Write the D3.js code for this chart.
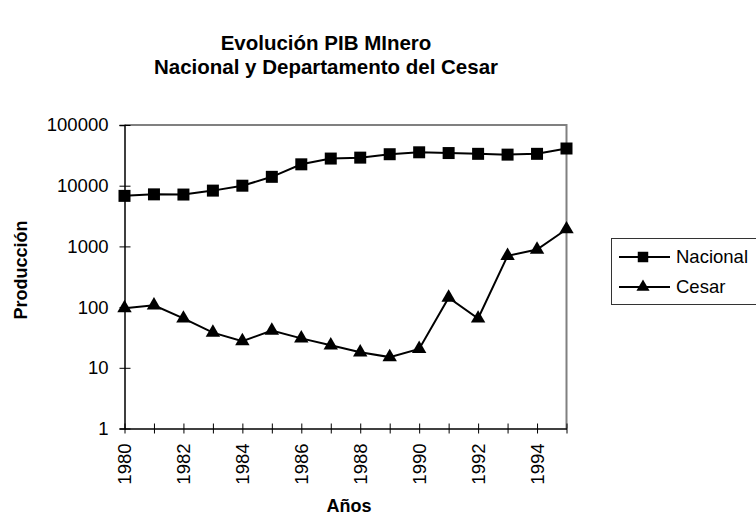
<!DOCTYPE html>
<html>
<head>
<meta charset="utf-8">
<script src="https://cdn.jsdelivr.net/npm/d3@7"></script>
<style>
    body { margin: 0; background: #fff; }
    svg { display: block; font-family: "Liberation Sans", Arial, sans-serif; }
</style>
</head>
<body>
<svg id="chart" width="756" height="517"></svg>
<script>
// data
const years = [1980, 1981, 1982, 1983, 1984, 1985, 1986, 1987, 1988, 1989, 1990, 1991, 1992, 1993, 1994, 1995];
const nacional = [6800, 7200, 7150, 8300, 10000, 14000, 22500, 28000, 29000, 33000, 35500, 34500, 33500, 32500, 33500, 41000];
const cesar = [96, 107, 65, 38, 27.5, 41, 30.5, 23.5, 18, 15, 20.5, 143, 65, 700, 890, 1920];
const yTicks = [1, 10, 100, 1000, 10000, 100000];
const seriesNames = ['Nacional', 'Cesar'];

const svg = d3.select('#chart');

const plot = { left: 124.5, right: 566.5, top: 125, bottom: 428.5 };

const x = d3.scaleLinear()
    .domain([years[0], years[years.length - 1]])
    .range([plot.left, plot.right]);

const y = d3.scaleLog()
    .domain([1, 100000])
    .range([plot.bottom, plot.top]);

// titles
svg.append('text')
    .attr('x', 326).attr('y', 50)
    .attr('text-anchor', 'middle')
    .attr('font-size', 20.5).attr('font-weight', 'bold')
    .text('Evolución PIB MInero');
svg.append('text')
    .attr('x', 326).attr('y', 74)
    .attr('text-anchor', 'middle')
    .attr('font-size', 20.5).attr('font-weight', 'bold')
    .text('Nacional y Departamento del Cesar');

// gray frame on top and right
svg.append('path')
    .attr('d', 'M' + plot.left + ',' + plot.top + 'H' + plot.right + 'V' + plot.bottom)
    .attr('fill', 'none')
    .attr('stroke', '#808080')
    .attr('stroke-width', 2);

// y axis
const yAxis = svg.append('g')
    .attr('transform', 'translate(' + plot.left + ',0)')
    .call(d3.axisLeft(y).tickValues(yTicks).tickFormat(d3.format('d')).tickSize(5).tickPadding(11));
yAxis.select('.domain').attr('stroke', '#000').attr('stroke-width', 1.5);
yAxis.selectAll('.tick line').attr('x1', 6).attr('stroke', '#000');
yAxis.selectAll('.tick text')
    .attr('font-size', 18.5).attr('font-family', 'Liberation Sans, Arial, sans-serif').attr('fill', '#000');

// x axis
const xAxis = svg.append('g')
    .attr('transform', 'translate(0,' + plot.bottom + ')')
    .call(d3.axisBottom(x).tickValues(years)
        .tickFormat(function(d) { return d % 2 === 0 && d < 1995 ? d : ''; })
        .tickSize(5).tickSizeOuter(0));
xAxis.select('.domain').attr('stroke', '#000').attr('stroke-width', 1.5);
xAxis.selectAll('.tick line').attr('y1', -5).attr('stroke', '#000');
xAxis.selectAll('.tick text')
    .attr('font-size', 18.5).attr('font-family', 'Liberation Sans, Arial, sans-serif').attr('fill', '#000')
    .attr('transform', 'rotate(-90)')
    .attr('text-anchor', 'end')
    .attr('x', -15).attr('y', 0).attr('dy', '0.35em');

// axis titles
svg.append('text')
    .attr('transform', 'translate(27,270) rotate(-90)')
    .attr('text-anchor', 'middle')
    .attr('font-size', 18).attr('font-weight', 'bold')
    .text('Producción');
svg.append('text')
    .attr('x', 349).attr('y', 512)
    .attr('text-anchor', 'middle')
    .attr('font-size', 18).attr('font-weight', 'bold')
    .text('Años');

// series
const line = d3.line()
    .x(function(d) { return x(d[0]); })
    .y(function(d) { return y(d[1]); });

const square = d3.symbol().type(d3.symbolSquare).size(144);
const triangle = d3.symbol().type(d3.symbolTriangle).size(90);
const legendSquare = d3.symbol().type(d3.symbolSquare).size(110);
const legendTriangle = d3.symbol().type(d3.symbolTriangle).size(75);

function drawSeries(values, sym) {
    const pts = d3.zip(years, values);
    svg.append('path')
        .datum(pts)
        .attr('d', line)
        .attr('fill', 'none')
        .attr('stroke', '#000')
        .attr('stroke-width', 2);
    svg.append('g').selectAll('path')
        .data(pts)
        .enter()
            .append('path')
                .attr('d', sym)
                .attr('transform', function(d) { return 'translate(' + x(d[0]) + ',' + y(d[1]) + ')'; })
                .attr('fill', '#000');
}

drawSeries(nacional, square);
drawSeries(cesar, triangle);

// legend
const legend = svg.append('g');
legend.append('rect')
    .attr('x', 611.5).attr('y', 238.5)
    .attr('width', 160).attr('height', 66)
    .attr('fill', '#fff')
    .attr('stroke', '#333');

const syms = [legendSquare, legendTriangle];
const rowY = [257, 287];
seriesNames.forEach(function(name, i) {
    legend.append('line')
        .attr('x1', 619).attr('x2', 670)
        .attr('y1', rowY[i]).attr('y2', rowY[i])
        .attr('stroke', '#000').attr('stroke-width', 2);
    legend.append('path')
        .attr('d', syms[i])
        .attr('transform', 'translate(643,' + rowY[i] + ')')
        .attr('fill', '#000');
    legend.append('text')
        .attr('x', 676).attr('y', rowY[i])
        .attr('dy', '0.35em')
        .attr('font-size', 18.5)
        .text(name);
});
</script>
</body>
</html>
